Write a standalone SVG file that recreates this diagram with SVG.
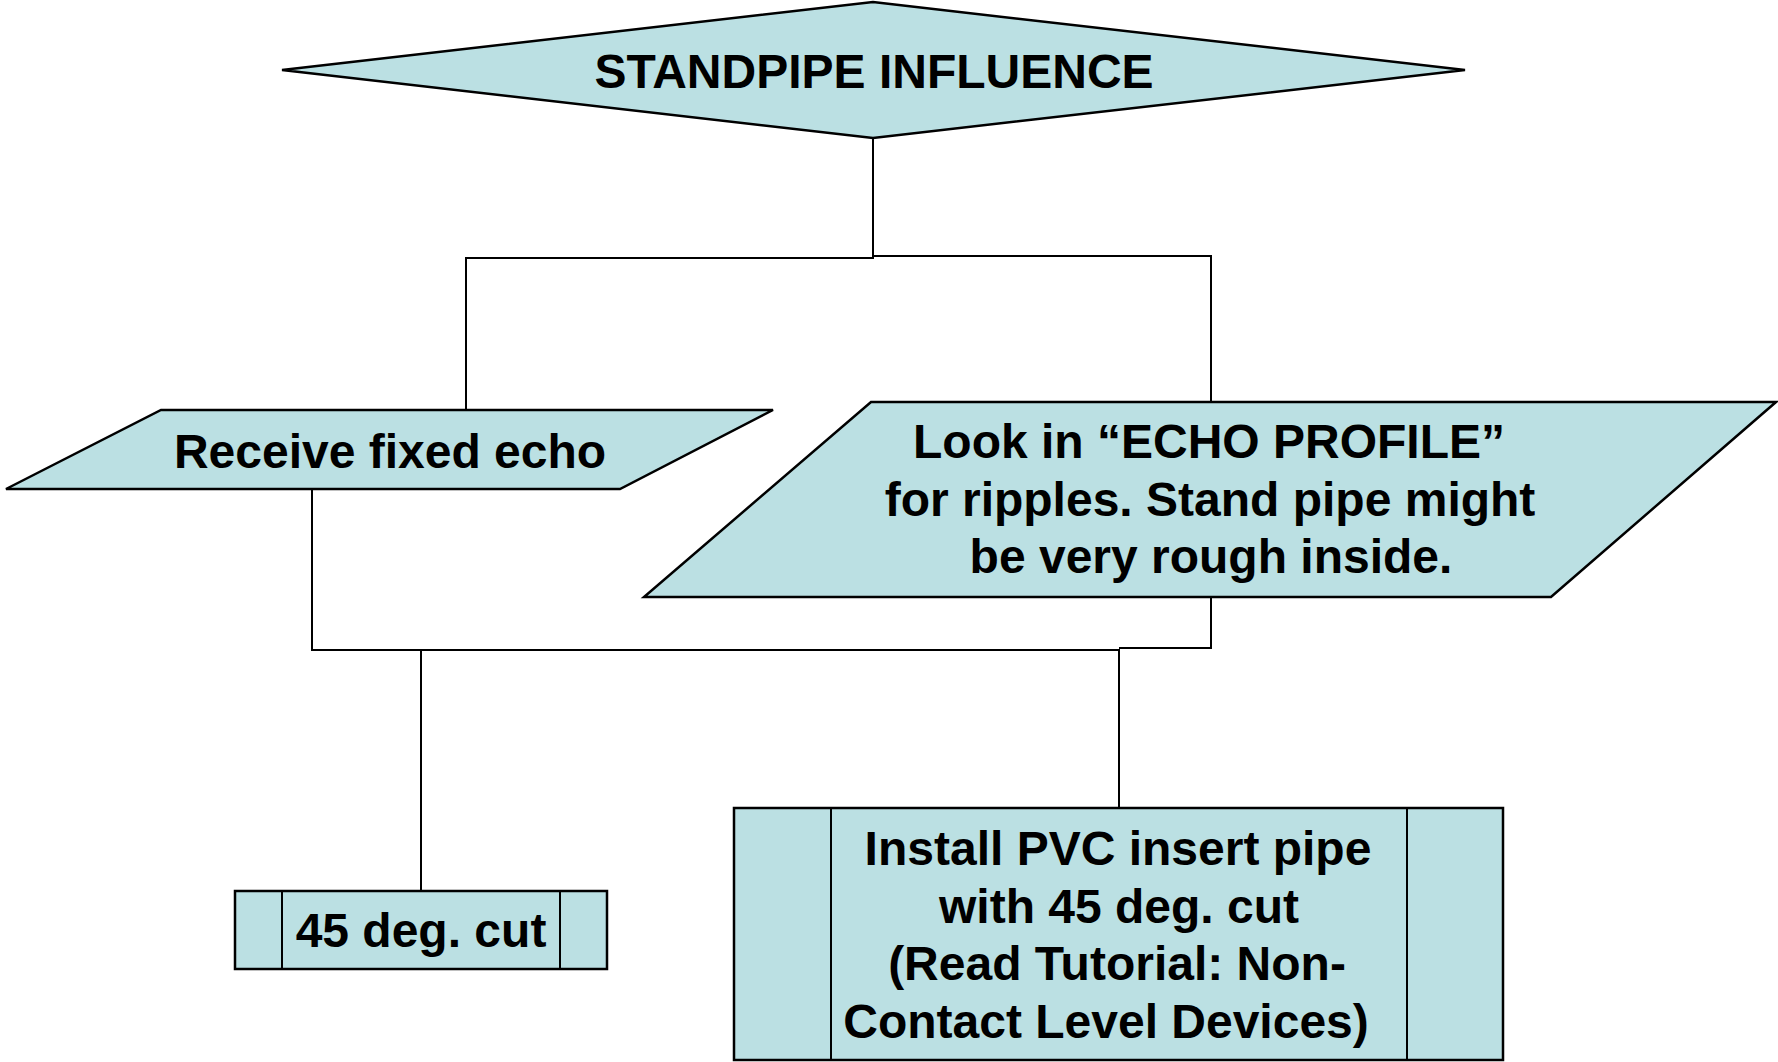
<svg xmlns="http://www.w3.org/2000/svg" width="1778" height="1062" viewBox="0 0 1778 1062">
<style>
.shape{fill:#BBE0E3;stroke:#000;stroke-width:2.5;stroke-linejoin:miter}
.inner{stroke:#000;stroke-width:2;fill:none}
.conn{fill:none;stroke:#000;stroke-width:2}
.t{font-family:"Liberation Sans",Arial,Helvetica,sans-serif;font-weight:bold;font-size:48px;fill:#000;text-anchor:middle}
</style>
<rect x="0" y="0" width="1778" height="1062" fill="#fff"/>
<g id="connectors">
<path class="conn" d="M873,138 V258 H466 V410"/>
<path class="conn" d="M873,138 V256 H1211 V402"/>
<path class="conn" d="M312,489 V650 H421 V891"/>
<path class="conn" d="M312,489 V650 H1119 V808"/>
<path class="conn" d="M1211,597 V648 H1119"/>
</g>
<g id="standpipe-influence">
<polygon class="shape" points="282,70 873,2 1465,70 873,138"/>
<text class="t" x="874" y="88">STANDPIPE INFLUENCE</text>
</g>
<g id="receive-fixed-echo">
<polygon class="shape" points="161,410 773,410 620,489 6,489"/>
<text class="t" x="390" y="468">Receive fixed echo</text>
</g>
<g id="look-in-echo-profile">
<polygon class="shape" points="871,402 1776,402 1551,597 644,597"/>
<text class="t" x="1209" y="458">Look in “ECHO PROFILE”</text>
<text class="t" x="1210" y="516">for ripples. Stand pipe might</text>
<text class="t" x="1211" y="573">be very rough inside.</text>
</g>
<g id="deg-cut">
<rect class="shape" x="235" y="891" width="372" height="78"/>
<line class="inner" x1="282" y1="891" x2="282" y2="969"/>
<line class="inner" x1="560" y1="891" x2="560" y2="969"/>
<text class="t" x="421" y="947">45 deg. cut</text>
</g>
<g id="install-pvc">
<rect class="shape" x="734" y="808" width="769" height="252"/>
<line class="inner" x1="831" y1="808" x2="831" y2="1060"/>
<line class="inner" x1="1407" y1="808" x2="1407" y2="1060"/>
<text class="t" x="1118" y="865">Install PVC insert pipe</text>
<text class="t" x="1119" y="923">with 45 deg. cut</text>
<text class="t" x="1117" y="980">(Read Tutorial: Non-</text>
<text class="t" x="1106" y="1038">Contact Level Devices)</text>
</g>
</svg>
